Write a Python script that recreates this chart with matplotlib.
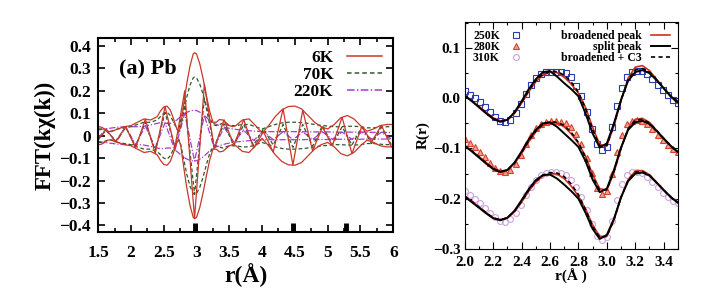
import numpy as np
import matplotlib
matplotlib.use('Agg')
import matplotlib.pyplot as plt
from matplotlib.ticker import MultipleLocator

plt.rcParams['font.family'] = ['Liberation Serif', 'DejaVu Serif']
plt.rcParams['font.weight'] = 'bold'
plt.rcParams['mathtext.fontset'] = 'stix'

# ---------------- left panel: FFT(k chi(k)) of Pb ----------------
r_env = [1.50, 1.55, 1.60, 1.65, 1.70, 1.80, 1.90, 2.00, 2.10, 2.20, 2.30, 2.40, 2.45,
         2.50, 2.55, 2.60, 2.65, 2.70, 2.73, 2.76, 2.80, 2.85, 2.90, 2.95, 2.97, 3.00,
         3.05, 3.10, 3.15, 3.20, 3.25, 3.30, 3.35, 3.40, 3.45, 3.50, 3.55, 3.60, 3.70,
         3.80, 3.90, 4.00, 4.10, 4.20, 4.30, 4.40, 4.50, 4.60, 4.70, 4.80, 4.90, 5.00,
         5.10, 5.20, 5.30, 5.40, 5.50, 5.60, 5.70, 5.80, 5.90, 6.00]
env_6K = [0.040, 0.038, 0.030, 0.020, 0.018, 0.030, 0.040, 0.045, 0.060, 0.075, 0.070, 0.085, 0.110,
          0.128, 0.132, 0.115, 0.075, 0.030, 0.015, 0.045, 0.130, 0.230, 0.310, 0.365, 0.370, 0.365,
          0.320, 0.255, 0.180, 0.110, 0.060, 0.060, 0.072, 0.070, 0.058, 0.045, 0.040, 0.045, 0.070,
          0.075, 0.045, 0.012, 0.045, 0.085, 0.115, 0.130, 0.132, 0.120, 0.090, 0.060, 0.040, 0.030,
          0.050, 0.080, 0.090, 0.075, 0.045, 0.020, 0.030, 0.045, 0.050, 0.050]
env_70K = [0.030, 0.030, 0.025, 0.020, 0.020, 0.030, 0.035, 0.040, 0.050, 0.060, 0.060, 0.070, 0.085,
           0.100, 0.105, 0.090, 0.060, 0.030, 0.020, 0.040, 0.100, 0.170, 0.225, 0.258, 0.262, 0.258,
           0.230, 0.185, 0.130, 0.080, 0.050, 0.045, 0.050, 0.055, 0.050, 0.045, 0.045, 0.045, 0.050,
           0.050, 0.040, 0.030, 0.040, 0.050, 0.057, 0.060, 0.060, 0.058, 0.055, 0.050, 0.046, 0.043,
           0.040, 0.040, 0.042, 0.042, 0.040, 0.035, 0.035, 0.038, 0.040, 0.040]
env_220K = [0.025, 0.028, 0.030, 0.032, 0.034, 0.038, 0.040, 0.040, 0.040, 0.042, 0.048, 0.055, 0.058,
            0.058, 0.055, 0.055, 0.060, 0.070, 0.078, 0.085, 0.095, 0.104, 0.110, 0.113, 0.113, 0.112,
            0.105, 0.095, 0.082, 0.068, 0.058, 0.050, 0.045, 0.040, 0.036, 0.033, 0.030, 0.028, 0.025,
            0.022, 0.020, 0.018, 0.018, 0.018, 0.018, 0.018, 0.018, 0.018, 0.017, 0.017, 0.017, 0.017,
            0.016, 0.016, 0.016, 0.016, 0.016, 0.015, 0.015, 0.015, 0.015, 0.015]

# real part: turning points
r_re = [1.50, 1.62, 1.77, 1.92, 2.07, 2.22, 2.37, 2.52, 2.67, 2.82, 2.97, 3.12, 3.27, 3.42, 3.57,
        3.72, 3.87, 4.02, 4.17, 4.32, 4.47, 4.62, 4.77, 4.92, 5.07, 5.22, 5.37, 5.52, 5.67, 5.82,
        5.97, 6.00]
re_6K = [-0.020, 0.027, -0.026, 0.041, -0.055, 0.074, -0.080, 0.130, -0.055, 0.200, -0.370, 0.230,
         -0.058, 0.071, -0.042, 0.072, -0.055, 0.017, -0.073, 0.120, -0.131, 0.114, -0.068, 0.038,
         -0.044, 0.082, -0.080, 0.040, -0.027, 0.046, -0.050, -0.045]
re_70K = [-0.015, 0.023, -0.023, 0.036, -0.047, 0.060, -0.067, 0.103, -0.048, 0.150, -0.262, 0.165,
          -0.048, 0.053, -0.045, 0.050, -0.043, 0.031, -0.042, 0.050, -0.052, 0.050, -0.047, 0.045,
          -0.041, 0.040, -0.042, 0.039, -0.035, 0.038, -0.040, -0.036]
re_220K = [-0.010, 0.031, -0.033, 0.040, -0.040, 0.043, -0.053, 0.057, -0.064, 0.100, -0.113, 0.090,
           -0.055, 0.038, -0.029, 0.024, -0.021, 0.018, -0.018, 0.018, -0.018, 0.017, -0.017, 0.017,
           -0.016, 0.016, -0.016, 0.016, -0.015, 0.015, -0.015, -0.012]
bond_r = [2.98, 4.47, 5.28]

# ---------------- right panel: R(r) fits ----------------
r_dat = np.linspace(2.0, 3.5, 43)
dat_250K = [0.015, 0.006, 0.000, -0.008, -0.018, -0.028, -0.038, -0.046, -0.048, -0.043, -0.030,
            -0.012, 0.008, 0.026, 0.040, 0.048, 0.052, 0.053, 0.053, 0.053, 0.050, 0.042, 0.025,
            0.005, -0.027, -0.062, -0.092, -0.103, -0.098, -0.058, -0.015, 0.020, 0.043, 0.052,
            0.055, 0.054, 0.048, 0.038, 0.027, 0.016, 0.006, -0.003, -0.010]
dat_280K = [-0.082, -0.090, -0.098, -0.107, -0.117, -0.128, -0.138, -0.145, -0.147, -0.142, -0.130,
            -0.112, -0.092, -0.074, -0.060, -0.052, -0.048, -0.046, -0.046, -0.047, -0.050, -0.058,
            -0.072, -0.092, -0.118, -0.148, -0.178, -0.190, -0.184, -0.150, -0.108, -0.073, -0.052,
            -0.045, -0.043, -0.045, -0.052, -0.062, -0.073, -0.084, -0.094, -0.102, -0.108]
dat_310K = [-0.185, -0.193, -0.200, -0.208, -0.218, -0.228, -0.237, -0.244, -0.246, -0.241, -0.229,
            -0.212, -0.193, -0.176, -0.162, -0.153, -0.148, -0.146, -0.146, -0.148, -0.153, -0.162,
            -0.177, -0.197, -0.222, -0.250, -0.274, -0.283, -0.276, -0.244, -0.203, -0.170, -0.152,
            -0.146, -0.146, -0.149, -0.156, -0.166, -0.177, -0.188, -0.197, -0.204, -0.209]

r_fit = [2.00, 2.05, 2.10, 2.15, 2.20, 2.25, 2.30, 2.35, 2.40, 2.45, 2.50, 2.55, 2.60, 2.65, 2.70,
         2.75, 2.80, 2.85, 2.90, 2.95, 3.00, 3.05, 3.10, 3.15, 3.20, 3.25, 3.30, 3.35, 3.40, 3.45, 3.50]
broad_250K = [0.005, -0.005, -0.016, -0.028, -0.039, -0.045, -0.043, -0.030, -0.010, 0.013, 0.033,
              0.046, 0.052, 0.051, 0.042, 0.028, 0.010, -0.018, -0.058, -0.092, -0.095, -0.055,
              -0.005, 0.040, 0.062, 0.065, 0.055, 0.038, 0.020, 0.003, -0.010]
split_250K = [0.005, -0.006, -0.018, -0.030, -0.041, -0.047, -0.043, -0.028, -0.006, 0.018, 0.038,
              0.052, 0.054, 0.043, 0.030, 0.018, 0.004, -0.030, -0.070, -0.098, -0.090, -0.050,
              -0.003, 0.035, 0.052, 0.056, 0.050, 0.036, 0.020, 0.004, -0.008]
c3_250K = [0.006, -0.005, -0.017, -0.029, -0.040, -0.046, -0.043, -0.029, -0.008, 0.015, 0.035,
           0.048, 0.053, 0.053, 0.046, 0.032, 0.012, -0.020, -0.062, -0.095, -0.094, -0.053,
           -0.004, 0.038, 0.056, 0.059, 0.052, 0.037, 0.020, 0.004, -0.009]
broad_280K = [-0.095, -0.105, -0.116, -0.128, -0.139, -0.145, -0.143, -0.130, -0.110, -0.087, -0.067,
              -0.054, -0.048, -0.049, -0.057, -0.071, -0.090, -0.115, -0.152, -0.180, -0.183, -0.148,
              -0.100, -0.060, -0.042, -0.040, -0.048, -0.064, -0.080, -0.095, -0.107]
split_280K = [-0.095, -0.106, -0.118, -0.130, -0.141, -0.147, -0.143, -0.128, -0.106, -0.082, -0.063,
              -0.050, -0.048, -0.057, -0.070, -0.083, -0.097, -0.125, -0.162, -0.187, -0.180, -0.143,
              -0.098, -0.063, -0.048, -0.045, -0.051, -0.065, -0.080, -0.095, -0.107]
c3_280K = [-0.094, -0.105, -0.117, -0.129, -0.140, -0.146, -0.143, -0.129, -0.108, -0.085, -0.065,
           -0.052, -0.047, -0.048, -0.054, -0.068, -0.088, -0.118, -0.156, -0.183, -0.182, -0.146,
           -0.099, -0.061, -0.044, -0.042, -0.049, -0.064, -0.080, -0.095, -0.107]
broad_310K = [-0.195, -0.205, -0.216, -0.228, -0.238, -0.242, -0.238, -0.226, -0.207, -0.185, -0.167,
              -0.155, -0.150, -0.151, -0.160, -0.175, -0.195, -0.220, -0.252, -0.275, -0.275, -0.243,
              -0.198, -0.162, -0.145, -0.144, -0.152, -0.167, -0.182, -0.196, -0.207]
split_310K = [-0.196, -0.207, -0.218, -0.229, -0.239, -0.243, -0.238, -0.224, -0.203, -0.181, -0.163,
              -0.153, -0.152, -0.160, -0.172, -0.185, -0.200, -0.228, -0.260, -0.280, -0.272, -0.240,
              -0.197, -0.165, -0.150, -0.148, -0.154, -0.168, -0.183, -0.197, -0.208]
c3_310K = [-0.195, -0.206, -0.217, -0.228, -0.238, -0.242, -0.238, -0.225, -0.205, -0.183, -0.165,
           -0.153, -0.148, -0.149, -0.156, -0.171, -0.192, -0.222, -0.255, -0.277, -0.275, -0.242,
           -0.197, -0.163, -0.147, -0.146, -0.153, -0.168, -0.183, -0.197, -0.208]

fig = plt.figure(figsize=(7.01, 2.96), dpi=100)

# left
ax1 = fig.add_axes([0.140, 0.216, 0.421, 0.655])
series = [('6K', env_6K, re_6K, '#c8382a', '-', 0.9),
          ('70K', env_70K, re_70K, '#2e5a28', (0, (3, 2)), 0.9),
          ('220K', env_220K, re_220K, '#a93bd0', (0, (5, 1.5, 1, 1.5)), 0.9)]
for name, env, re, col, ls, lw in reversed(series):
    env = np.array(env)
    ax1.plot(r_env, env, color=col, ls=ls, lw=lw)
    ax1.plot(r_env, -env, color=col, ls=ls, lw=lw)
    ax1.plot(r_re, re, color=col, ls=ls, lw=lw)
handles = [plt.Line2D([], [], color=c, ls=l, lw=1.1) for _, _, _, c, l, _ in series]
ax1.legend(handles, [s[0] for s in series], loc='upper right', frameon=False, markerfirst=False,
           handlelength=2.0, labelspacing=0.05, borderaxespad=0.25,
           prop={'weight': 'bold', 'size': 12.5})
ax1.vlines(bond_r, -0.43, -0.39, colors='black', lw=3.5)
ax1.text(0.07, 0.82, '(a) Pb', transform=ax1.transAxes, fontsize=16, fontweight='bold')
ax1.set_xlim(1.5, 6.0)
ax1.set_ylim(-0.43, 0.435)
ax1.xaxis.set_minor_locator(MultipleLocator(0.25))
ax1.set_yticks([0.4, 0.3, 0.2, 0.1, 0, -0.1, -0.2, -0.3, -0.4])
ax1.set_yticklabels(['0.4', '0.3', '0.2', '0.1', '0', '\u22120.1', '\u22120.2', '\u22120.3', '\u22120.4'])
ax1.set_xticks([1.5, 2, 2.5, 3, 3.5, 4, 4.5, 5, 5.5, 6])
ax1.set_xticklabels(['1.5', '2', '2.5', '3', '3.5', '4', '4.5', '5', '5.5', '6'])
ax1.tick_params(which='both', direction='in', top=True, right=True, labelsize=12.5, width=1.2)
ax1.tick_params(which='major', length=5)
ax1.tick_params(axis='x', which='major', pad=9)
ax1.tick_params(axis='y', which='major', pad=5)
ax1.tick_params(which='minor', length=3)
for lab in ax1.get_xticklabels() + ax1.get_yticklabels():
    lab.set_fontweight('bold')
for sp in ax1.spines.values():
    sp.set_linewidth(1.5)
ax1.set_xlabel('r(Å)', fontsize=17, fontweight='bold', labelpad=2)
ax1.set_ylabel('FFT(kχ(k))', fontsize=16.5, fontweight='bold', labelpad=3)

# right
ax2 = fig.add_axes([0.663, 0.159, 0.304, 0.767])
mk = dict(ls='none', ms=4.2, mew=0.8)
p1, = ax2.plot(r_dat, dat_250K, marker='s', mfc='none', mec='#2a3cb0', **mk)
p2, = ax2.plot(r_dat, dat_280K, marker='^', mfc='#f0a090', mec='#d8402e', **mk)
p3, = ax2.plot(r_dat, dat_310K, marker='o', mfc='none', mec='#c9a3dc', **mk)
for b, s, c in [(broad_250K, split_250K, c3_250K), (broad_280K, split_280K, c3_280K),
                (broad_310K, split_310K, c3_310K)]:
    l1, = ax2.plot(r_fit, b, color='#d03020', lw=1.2)
    l2, = ax2.plot(r_fit, s, color='black', lw=1.4)
    l3, = ax2.plot(r_fit, c, color='black', lw=1.2, ls=(0, (2.5, 2)))
leg1 = ax2.legend([p1, p2, p3], ['250K', '280K', '310K'], loc='upper left', frameon=False,
                  markerfirst=False, handlelength=1.2, labelspacing=-0.1, borderaxespad=0.3,
                  prop={'weight': 'bold', 'size': 8.5})
ax2.add_artist(leg1)
ax2.legend([l1, l2, l3], ['broadened peak', 'split peak', 'broadened + C3'], loc='upper right',
           frameon=False, markerfirst=False, handlelength=1.6, labelspacing=-0.1, borderaxespad=0.3,
           prop={'weight': 'bold', 'size': 8.5})
ax2.set_xlim(2.0, 3.5)
ax2.set_ylim(-0.3, 0.152)
ax2.set_xticks([2.0, 2.2, 2.4, 2.6, 2.8, 3.0, 3.2, 3.4])
ax2.xaxis.set_minor_locator(MultipleLocator(0.1))
ax2.set_yticks([0.1, 0.0, -0.1, -0.2, -0.3])
ax2.set_yticklabels(['0.1', '0.0', '\u22120.1', '\u22120.2', '\u22120.3'])
ax2.yaxis.set_minor_locator(MultipleLocator(0.05))
ax2.tick_params(which='both', direction='in', top=True, right=True, labelsize=11, width=0.8)
ax2.tick_params(which='major', length=5)
ax2.tick_params(axis='x', which='major', pad=5)
ax2.tick_params(axis='y', which='major', pad=3)
ax2.tick_params(which='minor', length=2.5)
for lab in ax2.get_xticklabels() + ax2.get_yticklabels():
    lab.set_fontweight('bold')
for sp in ax2.spines.values():
    sp.set_linewidth(0.8)
ax2.set_xlabel('r(Å )', fontsize=11, fontweight='bold', labelpad=0)
ax2.set_ylabel('R(r)', fontsize=11, fontweight='bold', labelpad=2)

plt.savefig('out.png', dpi=100)
plt.close()
